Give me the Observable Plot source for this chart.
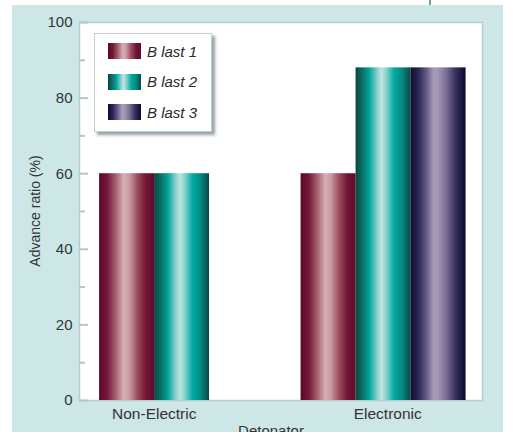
<!DOCTYPE html>
<html>
<head>
<meta charset="utf-8">
<script src="https://cdn.jsdelivr.net/npm/d3@7"></script>
<script src="https://cdn.jsdelivr.net/npm/@observablehq/plot@0.6"></script>
<style>
  body { margin: 0; background: #fff; font-family: "Liberation Sans", Arial, sans-serif; }
  #wrap { position: relative; width: 513px; height: 432px; overflow: hidden; background: #fff; }
  #panel { position: absolute; left: 12px; top: 5px; width: 491px; height: 427px; background: #cde7e6; }
  #rule { position: absolute; left: 429px; top: 0; width: 2px; height: 5px; background: #62a89d; }
  #chart { position: absolute; left: 0; top: 0; }
  #ylabel { position: absolute; left: 35px; top: 211px; transform: translate(-50%, -50%) rotate(-90deg);
            white-space: nowrap; font-size: 14px; color: #333; }
  #xlabel { position: absolute; left: 271px; top: 423px; transform: translateX(-50%);
            white-space: nowrap; font-size: 15px; line-height: 15px; color: #333; }
  #legend { position: absolute; left: 94px; top: 33px; width: 118px; height: 99px; background: #fff;
            border: 1px solid #c3cfd2; box-sizing: border-box; box-shadow: 3px 3px 3px rgba(70, 95, 100, 0.6); }
  .row { position: absolute; left: 13px; height: 16px; display: flex; align-items: center; }
  .row svg { display: block; }
  .row span { margin-left: 6px; font-size: 15px; font-style: italic; color: #2a2a2a; }
</style>
</head>
<body>
<div id="wrap">
  <div id="panel"></div>
  <div id="rule"></div>
  <div id="chart"></div>
  <div id="ylabel">Advance ratio (%)</div>
  <div id="xlabel">Detonator</div>
  <div id="legend"></div>
</div>
<script>
// Detonator types and blast series
const detonators = ["Non-Electric", "Electronic"];
const series = ["B last 1", "B last 2", "B last 3"];
// Advance ratio (%) per series; Non-Electric has no third blast
const nonElectric = [60, 60, null];
const electronic = [60, 88, 88];
const yTicks = [0, 20, 40, 60, 80, 100];
const yMinorTicks = [10, 30, 50, 70, 90];

// Cylinder-like shading for each series
const gradientStops = [
  [[0, "#5c0728"], [0.15, "#74193b"], [0.3, "#a45f6c"], [0.45, "#d6b0b5"], [0.55, "#c99aa1"], [0.7, "#9c4b5d"], [0.85, "#731637"], [1, "#620a2d"]],
  [[0, "#0c453f"], [0.12, "#0a6e66"], [0.25, "#00a39b"], [0.4, "#8ed2cc"], [0.47, "#bde4e0"], [0.55, "#8fd3cd"], [0.7, "#00aba3"], [0.85, "#07877f"], [1, "#0b4843"]],
  [[0, "#0e0c33"], [0.15, "#2c2757"], [0.3, "#6a5f8a"], [0.42, "#a79cb6"], [0.5, "#a396b2"], [0.65, "#7a6d96"], [0.8, "#3e3564"], [1, "#0a0828"]]
];

function addGradients(svg, prefix) {
  const defs = d3.select(svg).insert("defs", ":first-child");
  gradientStops.forEach((stops, i) => {
    const g = defs.append("linearGradient").attr("id", `${prefix}-${i}`)
      .attr("x1", "0").attr("x2", "1").attr("y1", "0").attr("y2", "0");
    stops.forEach(([o, c]) => g.append("stop").attr("offset", o).attr("stop-color", c));
  });
}

const values = [nonElectric, electronic];
const rows = [];
detonators.forEach((d, i) => series.forEach((s, j) => {
  if (values[i][j] != null) rows.push({detonator: d, series: s, value: values[i][j]});
}));

const tickColor = "#b3c4ca";
const labelStyle = {frameAnchor: "bottom", lineAnchor: "top", dy: 7, fill: "#333", fontSize: 15.5};

const chart = Plot.plot({
  width: 513,
  height: 432,
  marginLeft: 79,
  marginRight: 31,
  marginTop: 22,
  marginBottom: 32,
  style: {background: "transparent", fontFamily: "Liberation Sans, Arial, sans-serif", fontSize: "15px", color: "#333", overflow: "visible"},
  fx: {domain: detonators, padding: 0, round: false, axis: null, label: null},
  x: {domain: series, paddingInner: 0, paddingOuter: 0.332, align: 0.55, round: false, axis: null},
  y: {domain: [0, 100], axis: null},
  color: {domain: series, range: series.map((_, i) => `url(#bar-grad-${i})`)},
  marks: [
    Plot.frame({facet: "super", fill: "white", stroke: "#bccacd", strokeWidth: 1.5}),
    Plot.barY(rows, {fx: "detonator", x: "series", y: "value", fill: "series"}),
    Plot.axisY(yTicks, {tickSize: -9, tickFormat: () => "", stroke: tickColor, strokeWidth: 2, label: null}),
    Plot.axisY(yMinorTicks, {tickSize: -6, tickFormat: () => "", stroke: tickColor, strokeWidth: 2, label: null}),
    Plot.axisY(yTicks, {tickSize: 0, tickPadding: 7, fill: "#333", fontSize: 15, label: null}),
    Plot.text(detonators.slice(0, 1), {fx: (d) => d, text: (d) => d, dx: -26, ...labelStyle}),
    Plot.text(detonators.slice(1), {fx: (d) => d, text: (d) => d, dx: 6, ...labelStyle})
  ]
});

addGradients(chart, "bar-grad");
d3.select(chart).select('g[aria-label="frame"]')
  .style("filter", "drop-shadow(4px 4px 2px rgba(60, 85, 90, 0.65))");
d3.select(chart).selectAll('g[aria-label="y-axis tick label"]').attr("font-size", 15);
document.getElementById("chart").appendChild(chart);

// Legend with the same shaded swatches
const legend = d3.select("#legend");
series.forEach((s, i) => {
  const row = legend.append("div").attr("class", "row").style("top", `${9 + i * 30.5}px`);
  const sw = row.append("svg").attr("width", 33).attr("height", 16);
  addGradients(sw.node(), `legend-grad-${i}`);
  sw.append("rect").attr("width", 33).attr("height", 16).attr("fill", `url(#legend-grad-${i}-${i})`);
  row.append("span").text(s);
});
</script>
</body>
</html>
